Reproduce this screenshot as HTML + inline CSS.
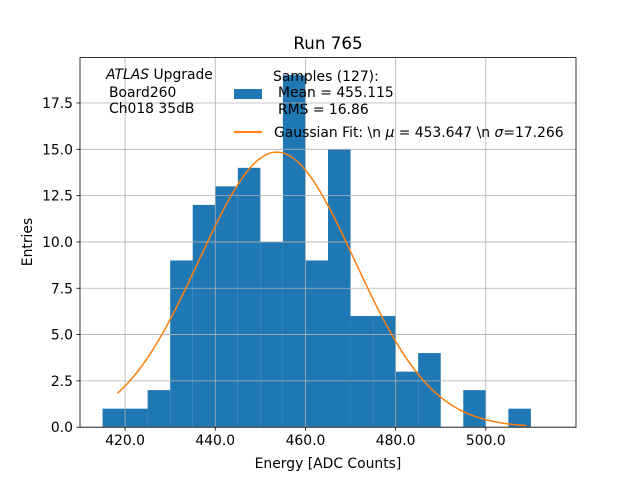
<!DOCTYPE html>
<html><head><meta charset="utf-8"><style>
body{margin:0;background:#fff}
svg text{font-family:"DejaVu Sans","Liberation Sans",sans-serif;fill:#000}
</style></head><body>
<svg id="chart" width="640" height="480" viewBox="0 0 640 480">
<rect width="640" height="480" fill="#fff"/>
<g id="grid"></g><g id="bars"></g><g id="fit"></g><g id="axes"></g>
<text x="328" y="49" font-size="16.7" text-anchor="middle">Run 765</text>
<text x="328" y="468" font-size="13.9" text-anchor="middle">Energy [ADC Counts]</text>
<text transform="translate(32,242) rotate(-90)" font-size="13.9" text-anchor="middle">Entries</text>
<g font-size="13.9">
<text x="106" y="79"><tspan font-style="italic">ATLAS</tspan> Upgrade</text>
<text x="109" y="97">Board260</text>
<text x="109" y="113">Ch018 35dB</text>
</g>
<g font-size="13.9">
<rect x="234" y="89" width="28" height="10" fill="#1f77b4"/>
<text x="273" y="81">Samples (127):</text>
<text x="278" y="97">Mean = 455.115</text>
<text x="278" y="114">RMS = 16.86</text>
<line x1="234" y1="132" x2="262" y2="132" stroke="#ff7f0e" stroke-width="2"/>
<text x="274" y="137">Gaussian Fit: \n <tspan font-style="italic">μ</tspan> = 453.647 \n <tspan font-style="italic">σ</tspan>=17.266</text>
</g>
</svg>
<script>
const binEdges=[415,420,425,430,435,440,445,450,455,460,465,470,475,480,485,490,495,500,505,510];
const counts=[1,1,2,9,12,13,14,10,19,9,15,6,6,3,4,0,2,0,1];
const xTicks=[420,440,460,480,500];
const yTicks=[0,2.5,5,7.5,10,12.5,15,17.5];
const fitMu=453.647, fitSigma=17.266, fitAmp=14.85, fitRange=[418.3,509];
const L=80,R=576,T=57.6,B=427.2,xmin=410,xmax=520,ymin=0,ymax=19.95;
const NS='http://www.w3.org/2000/svg';
const X=v=>L+(v-xmin)/(xmax-xmin)*(R-L);
const Y=v=>B-(v-ymin)/(ymax-ymin)*(B-T);
function mk(t,a,p){const e=document.createElementNS(NS,t);for(const k in a)e.setAttribute(k,a[k]);p.appendChild(e);return e;}
const grid=document.getElementById('grid'),bars=document.getElementById('bars'),fit=document.getElementById('fit'),axes=document.getElementById('axes');
counts.forEach((c,i)=>{if(c<=0)return;const x0=X(binEdges[i]),x1=X(binEdges[i+1]);
const r=mk('rect',{x:x0,y:Y(c),width:x1-x0,height:Y(0)-Y(c),fill:'#1f77b4'},bars);

});
const gAbove=mk('g',{},document.getElementById('chart'));
document.getElementById('chart').insertBefore(gAbove,fit);
xTicks.forEach(v=>{const l=mk('line',{x1:X(v),x2:X(v),y1:T,y2:B,stroke:'#b0b0b0','stroke-width':0.8},gAbove);

mk('line',{x1:X(v),x2:X(v),y1:B,y2:B+3.5,stroke:'#000','stroke-width':0.8},axes);
const t=mk('text',{x:X(v),y:B+18,'font-size':13.9,'text-anchor':'middle'},axes);t.textContent=v.toFixed(1);
});
yTicks.forEach(v=>{const l=mk('line',{x1:L,x2:R,y1:Y(v),y2:Y(v),stroke:'#b0b0b0','stroke-width':0.8},gAbove);

mk('line',{x1:L-3.5,x2:L,y1:Y(v),y2:Y(v),stroke:'#000','stroke-width':0.8},axes);
const t=mk('text',{x:L-7,y:Y(v)+5,'font-size':13.9,'text-anchor':'end'},axes);t.textContent=v.toFixed(1);
});
let d='';const n=100;for(let i=0;i<=n;i++){const x=fitRange[0]+(fitRange[1]-fitRange[0])*i/n;
const y=fitAmp*Math.exp(-0.5*((x-fitMu)/fitSigma)**2);d+=(i?'L':'M')+X(x).toFixed(2)+','+Y(y).toFixed(2);}
const p=mk('path',{d:d,fill:'none',stroke:'#ff7f0e','stroke-width':1.5},fit);

const f=mk('rect',{x:L,y:T,width:R-L,height:B-T,fill:'none',stroke:'#000','stroke-width':0.8},axes);

</script>
</body></html>
